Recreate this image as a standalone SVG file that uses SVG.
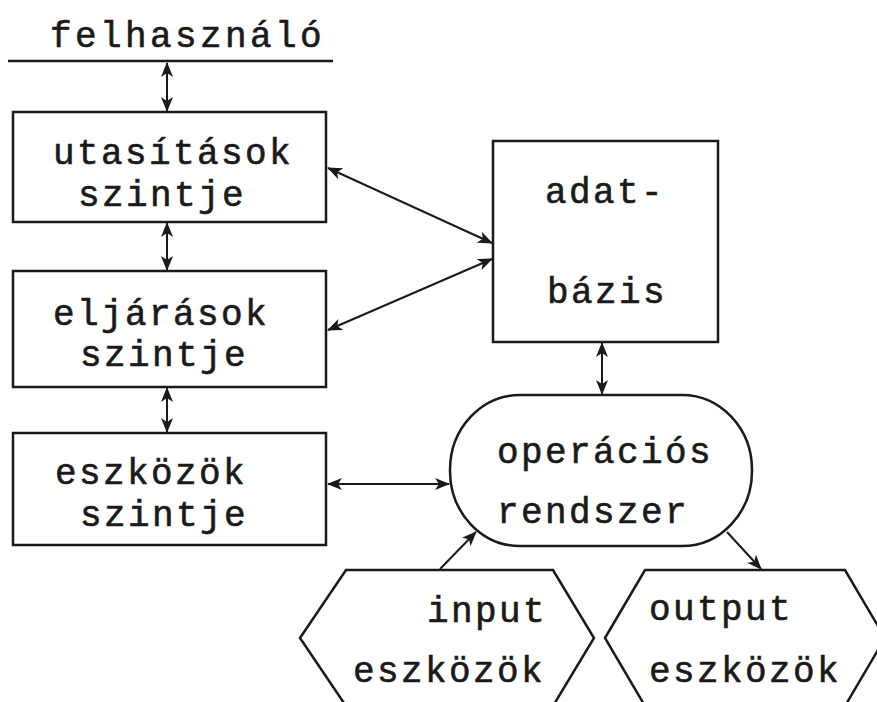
<svg xmlns="http://www.w3.org/2000/svg" width="877" height="702" viewBox="0 0 877 702">
  <style>
    .t { font-family: "Liberation Mono", "DejaVu Sans Mono", monospace; font-size: 36px; letter-spacing: 2.4px; fill: #1a1a1a; stroke: #1a1a1a; stroke-width: 0.6; }
    .shape { fill: #ffffff; stroke: #1a1a1a; stroke-width: 2.5; }
    .conn { fill: none; stroke: #1a1a1a; stroke-width: 2; }
  </style>
  <defs>
    <marker id="ah" viewBox="0 0 15 12" refX="14" refY="6" markerWidth="15" markerHeight="12" markerUnits="userSpaceOnUse" orient="auto-start-reverse">
      <path d="M0,0 L15,6 L0,12 L4,6 z" fill="#1a1a1a"/>
    </marker>
  </defs>
  <rect width="877" height="702" fill="#ffffff"/>

  <g id="felhasznalo">
    <text class="t" x="50" y="47" style="letter-spacing:3.4px">felhasználó</text>
    <line x1="8" y1="61" x2="333" y2="61" stroke="#1a1a1a" stroke-width="2.5"/>
  </g>

  <g id="utasitasok">
    <rect class="shape" x="13" y="112" width="313" height="110"/>
    <text class="t" x="53" y="164">utasítások</text>
    <text class="t" x="78" y="206">szintje</text>
  </g>

  <g id="eljarasok">
    <rect class="shape" x="13" y="271" width="313" height="116"/>
    <text class="t" x="53" y="325">eljárások</text>
    <text class="t" x="80" y="366">szintje</text>
  </g>

  <g id="eszkozok">
    <rect class="shape" x="13" y="433" width="313" height="112"/>
    <text class="t" x="55" y="484">eszközök</text>
    <text class="t" x="80" y="526">szintje</text>
  </g>

  <g id="adatbazis">
    <rect class="shape" x="493" y="141" width="225" height="201"/>
    <text class="t" x="545" y="203">adat-</text>
    <text class="t" x="547" y="303">bázis</text>
  </g>

  <g id="operacios">
    <rect class="shape" x="450" y="395" width="302" height="151" rx="70" ry="75"/>
    <text class="t" x="497" y="463">operációs</text>
    <text class="t" x="497" y="523">rendszer</text>
  </g>

  <g id="input">
    <polygon class="shape" points="300,638 346,570 553,570 594,638 553,706 346,706"/>
    <text class="t" x="427" y="622">input</text>
    <text class="t" x="353" y="682">eszközök</text>
  </g>

  <g id="output">
    <polygon class="shape" points="605,638 645,570 845,570 885,638 845,706 645,706"/>
    <text class="t" x="649" y="620">output</text>
    <text class="t" x="649" y="682">eszközök</text>
  </g>

  <g id="connectors">
    <line class="conn" x1="167" y1="63" x2="167" y2="111" marker-start="url(#ah)" marker-end="url(#ah)"/>
    <line class="conn" x1="167" y1="223" x2="167" y2="270" marker-start="url(#ah)" marker-end="url(#ah)"/>
    <line class="conn" x1="167" y1="388" x2="167" y2="432" marker-start="url(#ah)" marker-end="url(#ah)"/>
    <line class="conn" x1="328" y1="168" x2="492" y2="243" marker-start="url(#ah)" marker-end="url(#ah)"/>
    <line class="conn" x1="492" y1="259" x2="328" y2="330" marker-start="url(#ah)" marker-end="url(#ah)"/>
    <line class="conn" x1="602" y1="343" x2="602" y2="394" marker-start="url(#ah)" marker-end="url(#ah)"/>
    <line class="conn" x1="328" y1="484" x2="449" y2="484" marker-start="url(#ah)" marker-end="url(#ah)"/>
    <line class="conn" x1="440" y1="569" x2="476" y2="532" marker-end="url(#ah)"/>
    <line class="conn" x1="727" y1="532" x2="761" y2="569" marker-end="url(#ah)"/>
  </g>
</svg>
